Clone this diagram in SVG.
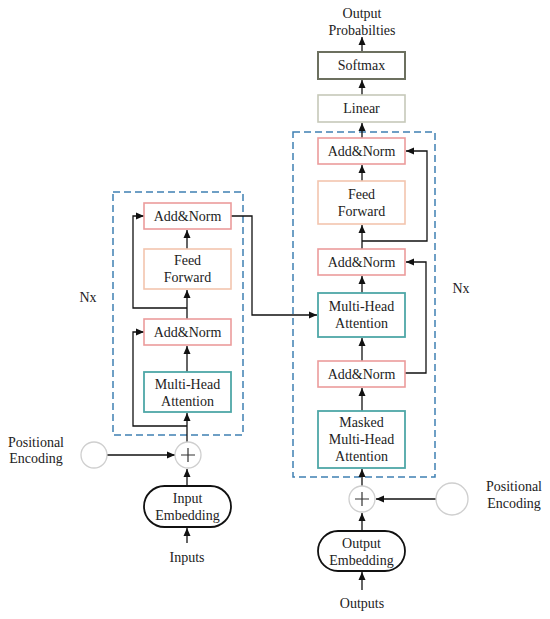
<svg xmlns="http://www.w3.org/2000/svg" width="550" height="619" viewBox="0 0 550 619" font-family="'Liberation Serif', 'Times New Roman', 'DejaVu Serif', serif">
<defs>
<marker id="ah" markerWidth="8" markerHeight="8" refX="8" refY="4" orient="auto" markerUnits="userSpaceOnUse">
<path d="M0,0.5 L8,4 L0,7.5 Z" fill="#111"/>
</marker>
<style>
text{font-family:'Liberation Serif','Times New Roman',serif;font-size:14px;fill:#222;text-anchor:middle}
.an{fill:#fff;stroke:#ec9c9c;stroke-width:1.6}
.ff{fill:#fff;stroke:#f3c5ae;stroke-width:1.6}
.mh{fill:#fff;stroke:#4ea7a7;stroke-width:1.8}
.emb{fill:#fff;stroke:#111;stroke-width:1.8}
.cir{fill:#fff;stroke:#cfcfcf;stroke-width:1.3}
.dash{fill:none;stroke:#3f80b3;stroke-width:1.5;stroke-dasharray:7,4}
.c{fill:none;stroke:#111;stroke-width:1.3}
.ca{fill:none;stroke:#111;stroke-width:1.3;marker-end:url(#ah)}
</style>
</defs>
<rect width="550" height="619" fill="#fff"/>

<g id="encoder-block">
<rect class="dash" x="113" y="192" width="130" height="243"/>
<text x="88" y="302">Nx</text>
</g>
<g id="decoder-block">
<rect class="dash" x="293" y="132" width="142" height="345"/>
<text x="461" y="293">Nx</text>
</g>

<g id="connectors">
<path class="ca" d="M187,543 V528"/>
<path class="ca" d="M187,486 V469"/>
<path class="ca" d="M107,455 H175"/>
<path class="ca" d="M187,442 V413"/>
<path class="ca" d="M187,426 H133 V332 H144"/>
<path class="ca" d="M187,372 V346"/>
<path class="ca" d="M187,319 V290"/>
<path class="ca" d="M187,308 H133 V216 H144"/>
<path class="ca" d="M187,249 V230"/>
<path class="ca" d="M231,216 H252 V315 H317"/>
<path class="ca" d="M362,590 V572"/>
<path class="ca" d="M362,531 V513"/>
<path class="ca" d="M436,499 H376"/>
<path class="ca" d="M362,486 V469"/>
<path class="ca" d="M362,411 V388"/>
<path class="ca" d="M405,373 H426 V262 H406"/>
<path class="ca" d="M362,361 V338"/>
<path class="ca" d="M362,293 V276"/>
<path class="ca" d="M362,249 V225"/>
<path class="ca" d="M362,241 H427 V151 H406"/>
<path class="ca" d="M362,181 V165"/>
<path class="ca" d="M362,138 V123"/>
<path class="ca" d="M362,95 V80"/>
<path class="ca" d="M362,52 V37"/>
</g>

<g id="inputs"><text x="187" y="562">Inputs</text></g>
<g id="input-embedding">
<rect class="emb" x="144" y="486" width="87" height="41" rx="20.5"/>
<text x="187.5" y="503">Input</text>
<text x="187.5" y="520">Embedding</text>
</g>
<g id="enc-plus">
<circle class="cir" cx="188" cy="455" r="13"/>
<path d="M181,455 H195 M188,448 V462" stroke="#333" stroke-width="1.2"/>
</g>
<g id="enc-posenc">
<circle class="cir" cx="94" cy="455" r="13"/>
<text x="36" y="447">Positional</text>
<text x="36" y="463">Encoding</text>
</g>
<g id="enc-mha">
<rect class="mh" x="144" y="372" width="87" height="40"/>
<text x="187.5" y="389">Multi-Head</text>
<text x="187.5" y="406">Attention</text>
</g>
<g id="enc-addnorm1">
<rect class="an" x="144" y="319" width="87" height="26"/>
<text x="187.5" y="337">Add&amp;Norm</text>
</g>
<g id="enc-ff">
<rect class="ff" x="144" y="249" width="87" height="40"/>
<text x="187.5" y="265">Feed</text>
<text x="187.5" y="282">Forward</text>
</g>
<g id="enc-addnorm2">
<rect class="an" x="144" y="203" width="87" height="26"/>
<text x="187.5" y="221">Add&amp;Norm</text>
</g>

<g id="outputs"><text x="362" y="608">Outputs</text></g>
<g id="output-embedding">
<rect class="emb" x="318" y="531" width="87" height="40" rx="20"/>
<text x="361.5" y="548">Output</text>
<text x="361.5" y="565">Embedding</text>
</g>
<g id="dec-plus">
<circle class="cir" cx="362" cy="499" r="13"/>
<path d="M355,499 H369 M362,492 V506" stroke="#333" stroke-width="1.2"/>
</g>
<g id="dec-posenc">
<circle class="cir" cx="452" cy="499" r="16"/>
<text x="514" y="491">Positional</text>
<text x="514" y="508">Encoding</text>
</g>
<g id="dec-masked-mha">
<rect class="mh" x="318" y="411" width="87" height="57"/>
<text x="361.5" y="427">Masked</text>
<text x="361.5" y="444">Multi-Head</text>
<text x="361.5" y="461">Attention</text>
</g>
<g id="dec-addnorm1">
<rect class="an" x="318" y="361" width="87" height="26"/>
<text x="361.5" y="379">Add&amp;Norm</text>
</g>
<g id="dec-mha">
<rect class="mh" x="318" y="293" width="87" height="44"/>
<text x="361.5" y="311">Multi-Head</text>
<text x="361.5" y="328">Attention</text>
</g>
<g id="dec-addnorm2">
<rect class="an" x="318" y="249" width="87" height="26"/>
<text x="361.5" y="267">Add&amp;Norm</text>
</g>
<g id="dec-ff">
<rect class="ff" x="318" y="181" width="87" height="43"/>
<text x="361.5" y="199">Feed</text>
<text x="361.5" y="216">Forward</text>
</g>
<g id="dec-addnorm3">
<rect class="an" x="318" y="138" width="87" height="26"/>
<text x="361.5" y="156">Add&amp;Norm</text>
</g>
<g id="linear">
<rect fill="#fff" stroke="#c6c9b9" stroke-width="1.6" x="318" y="95" width="87" height="27"/>
<text x="361.5" y="113">Linear</text>
</g>
<g id="softmax">
<rect fill="#fff" stroke="#6c705f" stroke-width="2" x="318" y="52" width="87" height="27"/>
<text x="361.5" y="70">Softmax</text>
</g>
<g id="output-probs">
<text x="362" y="18">Output</text>
<text x="362" y="35">Probabilties</text>
</g>
</svg>
